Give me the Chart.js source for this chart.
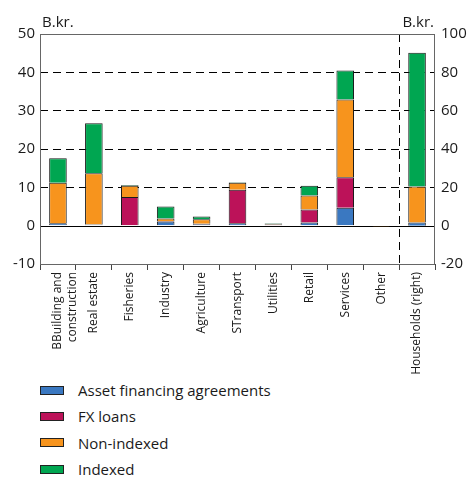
<!DOCTYPE html>
<html>
<head>
<meta charset="utf-8">
<script src="https://cdn.jsdelivr.net/npm/chart.js@4"></script>
<style>
  html, body { margin: 0; padding: 0; background: #fff; }
  #wrap { position: relative; width: 470px; height: 478px; font-family: "Open Sans", sans-serif; }
  #legend { position: absolute; left: 40px; top: 377px; }
  .item { height: 26.3px; display: flex; align-items: center; font-size: 15px; color: #1a1a1a; }
  .box { width: 22px; height: 7px; border: 1px solid #222; margin-right: 14px; }
</style>
</head>
<body>
<div id="wrap">
  <canvas id="c" width="470" height="377"></canvas>
  <div id="legend"></div>
</div>
<script>
const categories = [["BBuilding and", "construction"], "Real estate", "Fisheries", "Industry", "Agriculture", "STransport", "Utilities", "Retail", "Services", "Other", "Households (right)"];
const seriesNames = ["Asset financing agreements", "FX loans", "Non-indexed", "Indexed"];
const seriesColors = ["#3a78c1", "#bc1259", "#f7941d", "#00a651"];
// Left axis (B.kr.), sectors; Households value on right axis
const assetFinancing = [0.6, 0.3, 0.0, 1.1, 0.4, 0.6, 0.1, 0.8, 4.7, 0.0];
const fxLoans        = [0.0, 0.0, 7.5, 0.1, 0.1, 8.8, 0.2, 3.4, 7.9, 0.0];
const nonIndexed     = [10.6, 13.4, 2.9, 0.7, 1.2, 1.8, 0.2, 3.7, 20.3, -0.3];
const indexed        = [6.4, 13.0, 0.2, 3.1, 0.7, 0.1, 0.1, 2.5, 7.6, 0.0];
// Households (right axis)
const householdsValues = [1.7, 0.0, 18.7, 69.8];
const leftTicks = { min: -10, max: 50, step: 10 };
const rightTicks = { min: -20, max: 100, step: 20 };

const leftSeries = [assetFinancing, fxLoans, nonIndexed, indexed];
const datasets = [];
leftSeries.forEach((arr, i) => {
  datasets.push({
    label: seriesNames[i], yAxisID: 'y', stack: 's',
    data: arr.concat([null]),
    backgroundColor: seriesColors[i], borderColor: '#1a1a1a', borderWidth: 1,
    categoryPercentage: 1, barPercentage: 0.49
  });
});
householdsValues.forEach((v, i) => {
  const d = categories.map(() => null);
  d[categories.length - 1] = v;
  datasets.push({
    label: seriesNames[i] + ' (households)', yAxisID: 'y1', stack: 's',
    data: d,
    backgroundColor: seriesColors[i], borderColor: '#1a1a1a', borderWidth: 1,
    categoryPercentage: 1, barPercentage: 0.49
  });
});

const FONT = "'Open Sans', sans-serif";
const deco = {
  id: 'deco',
  beforeDatasetsDraw(chart) {
    const ctx = chart.ctx, a = chart.chartArea;
    const y0 = Math.round(chart.scales.y.getPixelForValue(0)) + 0.5;
    ctx.save();
    ctx.strokeStyle = '#000'; ctx.lineWidth = 1;
    ctx.beginPath(); ctx.moveTo(a.left, y0); ctx.lineTo(a.right, y0); ctx.stroke();
    const xs = chart.scales.x;
    const xv = Math.round((xs.getPixelForValue(9) + xs.getPixelForValue(10)) / 2) + 0.5;
    ctx.setLineDash([8, 5]);
    ctx.beginPath(); ctx.moveTo(xv, a.top); ctx.lineTo(xv, a.bottom); ctx.stroke();
    ctx.restore();
  },
  afterDraw(chart) {
    const ctx = chart.ctx, a = chart.chartArea;
    ctx.save();
    ctx.strokeStyle = '#666'; ctx.lineWidth = 1;
    ctx.strokeRect(Math.round(a.left) + 0.5, Math.round(a.top) + 0.5, Math.round(a.right - a.left) - 1, Math.round(a.bottom - a.top));
    ctx.fillStyle = '#1a1a1a';
    ctx.font = "15px " + FONT;
    ctx.textBaseline = 'bottom';
    ctx.textAlign = 'left';
    ctx.fillText('B.kr.', a.left + 2, a.top - 4);
    ctx.textAlign = 'right';
    ctx.fillText('B.kr.', a.right - 1, a.top - 4);
    ctx.restore();
  }
};

new Chart(document.getElementById('c'), {
  type: 'bar',
  data: { labels: categories, datasets },
  options: {
    responsive: false, animation: false,
    layout: { padding: { top: 34, left: 0, right: 0, bottom: 0 } },
    plugins: { legend: { display: false }, tooltip: { enabled: false } },
    scales: {
      x: {
        stacked: true,
        grid: { offset: true, drawOnChartArea: false, color: '#444', tickLength: 6 },
        border: { display: false },
        ticks: { minRotation: 90, maxRotation: 90, autoSkip: false, padding: 2, color: '#1a1a1a', font: { family: FONT, size: 12 } },
        afterFit(s) { s.height = 377 - 264; }
      },
      y: {
        position: 'left', stacked: true,
        min: leftTicks.min, max: leftTicks.max,
        ticks: { stepSize: leftTicks.step, color: '#1a1a1a', padding: 5, font: { family: FONT, size: 15 } },
        grid: { drawTicks: false, color: (c) => (c.tick && c.tick.value > 0 && c.tick.value < 50) ? '#000' : 'rgba(0,0,0,0)' },
        border: { display: false, dash: [8, 5] },
        afterFit(s) { s.width = 40; }
      },
      y1: {
        position: 'right', stacked: true,
        min: rightTicks.min, max: rightTicks.max,
        ticks: { stepSize: rightTicks.step, color: '#1a1a1a', padding: 6, font: { family: FONT, size: 15 } },
        grid: { display: false, drawTicks: false },
        border: { display: false },
        afterFit(s) { s.width = 35; }
      }
    }
  },
  plugins: [deco]
});

const lg = document.getElementById('legend');
seriesNames.forEach((n, i) => {
  const it = document.createElement('div'); it.className = 'item';
  const b = document.createElement('div'); b.className = 'box'; b.style.background = seriesColors[i];
  const t = document.createElement('span'); t.textContent = n;
  it.appendChild(b); it.appendChild(t); lg.appendChild(it);
});
</script>
</body>
</html>
